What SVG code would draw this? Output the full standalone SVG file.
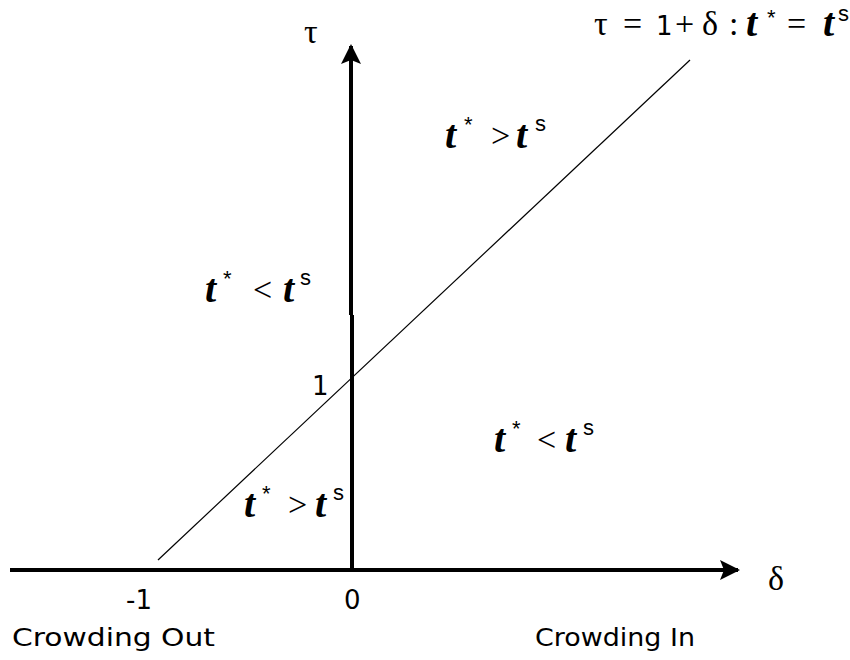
<svg xmlns="http://www.w3.org/2000/svg" width="850" height="660" viewBox="0 0 850 660">
<style>
.ax{stroke:#000;stroke-width:4;fill:none}
.ln{stroke:#000;stroke-width:1.2;fill:none}
.sym{font-family:"Liberation Serif","DejaVu Serif",serif;font-size:34px;fill:#000}
.t{font-family:"Liberation Serif","DejaVu Serif",serif;font-size:40px;font-style:italic;font-weight:bold;fill:#000}
.sup{font-family:"Liberation Sans","DejaVu Sans",sans-serif;font-size:22px;fill:#000}
.lab{font-family:"DejaVu Sans","Liberation Sans",sans-serif;font-size:25px;fill:#000}
.num{font-family:"DejaVu Sans","Liberation Sans",sans-serif;font-size:26px;fill:#000}
</style>
<defs>
<marker id="ah" viewBox="0 0 10 10" refX="9" refY="5" markerWidth="6" markerHeight="5" orient="auto" markerUnits="strokeWidth">
<path d="M0,0 L10,5 L0,10 L2,5 Z" fill="#000"/>
</marker>
</defs>
<rect width="850" height="660" fill="#fff"/>
<g id="connectors">
<line class="ax" x1="10" y1="570" x2="738" y2="570" marker-end="url(#ah)"/>
<line class="ax" x1="352" y1="572" x2="352" y2="315"/>
<line class="ax" x1="351" y1="315" x2="351" y2="46" marker-end="url(#ah)"/>
<line class="ln" x1="158" y1="560" x2="690" y2="60"/>
</g>
<g id="tau-label"><text class="sym" x="304" y="43">τ</text></g>
<g id="delta-label"><text class="sym" x="768" y="590">δ</text></g>
<g id="line-label">
<text class="sym" x="594" y="35">τ</text>
<text class="sym" x="623" y="35">=</text>
<text class="num" x="656" y="35">1</text>
<text class="sym" x="675" y="35">+</text>
<text class="sym" x="702" y="35">δ</text>
<text class="sym" x="729" y="35">:</text>
<text class="t" x="746" y="36">t</text><text class="sup" x="767" y="25">*</text>
<text class="sym" x="787" y="35">=</text>
<text class="t" x="823" y="36">t</text><text class="sup" x="838" y="21">s</text>
</g>
<g id="region-upper-right">
<text class="t" x="445" y="148">t</text><text class="sup" x="464" y="132">*</text>
<text class="sym" x="491" y="147">&gt;</text>
<text class="t" x="516" y="148">t</text><text class="sup" x="535" y="131">s</text>
</g>
<g id="region-upper-left">
<text class="t" x="205" y="302">t</text><text class="sup" x="223" y="286">*</text>
<text class="sym" x="253" y="301">&lt;</text>
<text class="t" x="283" y="302">t</text><text class="sup" x="300" y="285">s</text>
</g>
<g id="tick-1"><text class="num" x="312" y="395">1</text></g>
<g id="region-lower-right">
<text class="t" x="494" y="452">t</text><text class="sup" x="512" y="436">*</text>
<text class="sym" x="537" y="451">&lt;</text>
<text class="t" x="565" y="452">t</text><text class="sup" x="583" y="435">s</text>
</g>
<g id="region-lower-left">
<text class="t" x="244" y="517">t</text><text class="sup" x="262" y="501">*</text>
<text class="sym" x="288" y="516">&gt;</text>
<text class="t" x="315" y="517">t</text><text class="sup" x="333" y="500">s</text>
</g>
<g id="tick-minus1"><text class="num" x="126" y="609">-1</text></g>
<g id="tick-0"><text class="num" x="344" y="609">0</text></g>
<g id="crowding-out"><text class="lab" x="12" y="646" textLength="203" lengthAdjust="spacingAndGlyphs">Crowding Out</text></g>
<g id="crowding-in"><text class="lab" x="535" y="646" textLength="160" lengthAdjust="spacingAndGlyphs">Crowding In</text></g>
</svg>
